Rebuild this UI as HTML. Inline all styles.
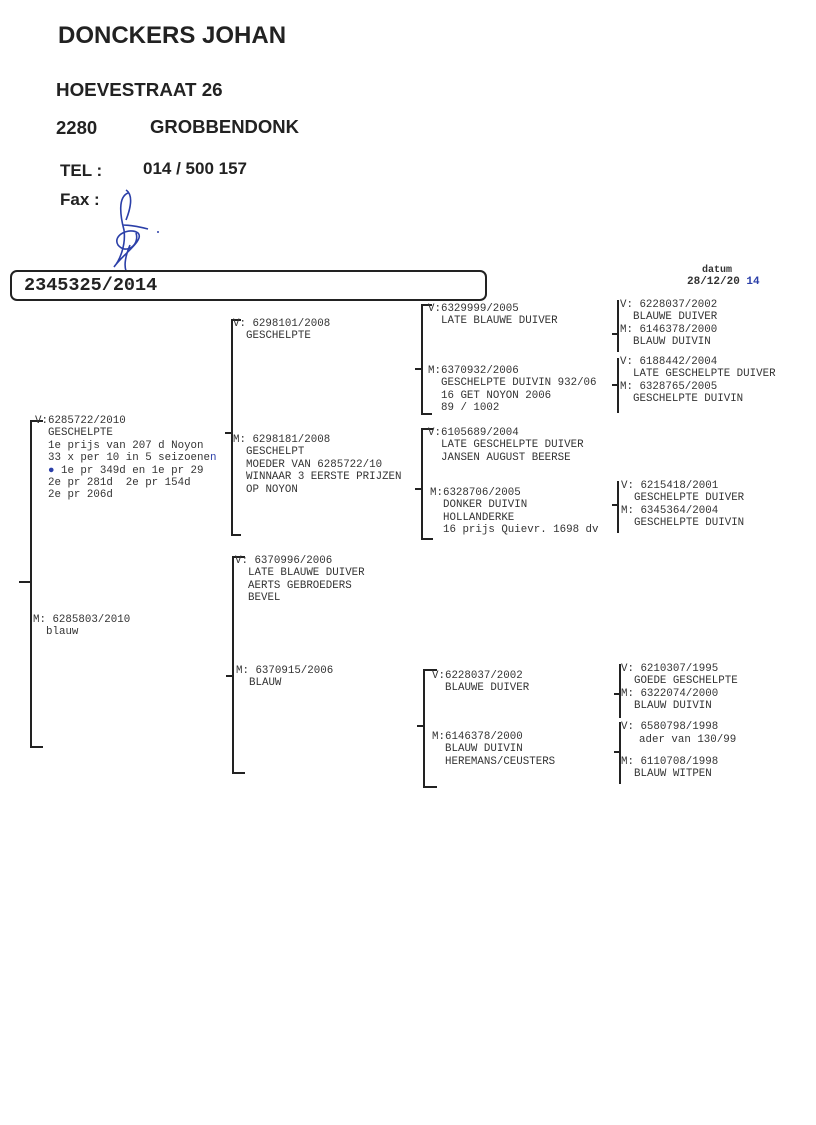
<!DOCTYPE html>
<html><head><meta charset="utf-8">
<style>
body{margin:0;background:#fff;}
#p{position:relative;width:816px;height:1125px;overflow:hidden;background:#fff;}
.h{position:absolute;font-family:"Liberation Sans",sans-serif;font-weight:bold;color:#222;line-height:1;white-space:nowrap;}
.t{position:absolute;font-family:"Liberation Mono",monospace;font-size:10.8px;line-height:12.4px;color:#333;white-space:pre;}
.t div{margin-left:13px;}
.b{position:absolute;border:2px solid #222;border-right:none;}
.v{position:absolute;width:2px;background:#222;}
.k{position:absolute;height:2px;background:#222;}
</style></head><body><div id="p">
<div class="h" style="left:58px;top:24px;font-size:24px;">DONCKERS JOHAN</div>
<div class="h" style="left:56px;top:81px;font-size:18.8px;">HOEVESTRAAT 26</div>
<div class="h" style="left:56px;top:119px;font-size:18.5px;">2280</div>
<div class="h" style="left:150px;top:118px;font-size:18.5px;">GROBBENDONK</div>
<div class="h" style="left:60px;top:162px;font-size:17px;">TEL :</div>
<div class="h" style="left:143px;top:160px;font-size:17px;">014 / 500 157</div>
<div class="h" style="left:60px;top:191px;font-size:17px;">Fax :</div>
<svg style="position:absolute;left:100px;top:185px" width="70" height="90" viewBox="0 0 70 90">
<path d="M28 8 C18 12 20 30 24 45 C26 60 20 75 14 82 C22 70 45 55 38 48 C30 42 12 50 18 60 C26 70 40 60 36 48 M26 5 C34 10 30 25 26 35 M22 40 C30 40 40 42 48 44 M30 60 C25 72 24 80 26 86" fill="none" stroke="#2b3fa8" stroke-width="1.6"/>
<circle cx="58" cy="47" r="1" fill="#2b3fa8"/></svg>
<div style="position:absolute;left:10px;top:270px;width:473px;height:27px;border:2px solid #222;border-radius:7px;"></div>
<div style="position:absolute;left:24px;top:275px;font-family:'Liberation Mono',monospace;font-weight:bold;font-size:18.5px;color:#222;">2345325/2014</div>
<div style="position:absolute;left:702px;top:265px;font-family:'Liberation Mono',monospace;font-weight:bold;font-size:10px;color:#333;">datum</div>
<div style="position:absolute;left:687px;top:276px;font-family:'Liberation Mono',monospace;font-weight:bold;font-size:11px;color:#333;">28/12/20<span style="color:#2b3fa8"> 14</span></div>

<div class="b" style="left:30px;top:420px;width:11px;height:324px;"></div>
<div class="k" style="left:19px;top:581px;width:12px;"></div>
<div class="b" style="left:231px;top:319px;width:8px;height:213px;"></div>
<div class="k" style="left:225px;top:432px;width:7px;"></div>
<div class="b" style="left:232px;top:556px;width:11px;height:214px;"></div>
<div class="k" style="left:226px;top:675px;width:7px;"></div>
<div class="b" style="left:421px;top:304px;width:9px;height:107px;"></div>
<div class="k" style="left:415px;top:368px;width:7px;"></div>
<div class="b" style="left:421px;top:428px;width:10px;height:108px;"></div>
<div class="k" style="left:415px;top:488px;width:7px;"></div>
<div class="b" style="left:423px;top:669px;width:12px;height:115px;"></div>
<div class="k" style="left:417px;top:725px;width:7px;"></div>

<div class="v" style="left:617px;top:300px;height:52px;"></div><div class="k" style="left:612px;top:333px;width:6px;"></div>
<div class="v" style="left:617px;top:358px;height:55px;"></div><div class="k" style="left:612px;top:384px;width:6px;"></div>
<div class="v" style="left:617px;top:481px;height:52px;"></div><div class="k" style="left:612px;top:504px;width:6px;"></div>
<div class="v" style="left:619px;top:664px;height:54px;"></div><div class="k" style="left:614px;top:693px;width:6px;"></div>
<div class="v" style="left:619px;top:722px;height:62px;"></div><div class="k" style="left:614px;top:751px;width:6px;"></div>

<div class="t" style="left:35px;top:415px;">V:6285722/2010<div>GESCHELPTE
1e prijs van 207 d Noyon
33 x per 10 in 5 seizoene<span style="color:#2b3fa8">n</span>
<span style="color:#2b3fa8">●</span> 1e pr 349d en 1e pr 29
2e pr 281d  2e pr 154d
2e pr 206d</div></div>
<div class="t" style="left:33px;top:614px;">M: 6285803/2010<div>blauw</div></div>
<div class="t" style="left:233px;top:318px;">V: 6298101/2008<div>GESCHELPTE</div></div>
<div class="t" style="left:233px;top:434px;">M: 6298181/2008<div>GESCHELPT
MOEDER VAN 6285722/10
WINNAAR 3 EERSTE PRIJZEN
OP NOYON</div></div>
<div class="t" style="left:235px;top:555px;">V: 6370996/2006<div>LATE BLAUWE DUIVER
AERTS GEBROEDERS
BEVEL</div></div>
<div class="t" style="left:236px;top:665px;">M: 6370915/2006<div>BLAUW</div></div>
<div class="t" style="left:428px;top:303px;">V:6329999/2005<div>LATE BLAUWE DUIVER</div></div>
<div class="t" style="left:428px;top:365px;">M:6370932/2006<div>GESCHELPTE DUIVIN 932/06
16 GET NOYON 2006
89 / 1002</div></div>
<div class="t" style="left:428px;top:427px;">V:6105689/2004<div>LATE GESCHELPTE DUIVER
JANSEN AUGUST BEERSE</div></div>
<div class="t" style="left:430px;top:487px;">M:6328706/2005<div>DONKER DUIVIN
HOLLANDERKE
16 prijs Quievr. 1698 dv</div></div>
<div class="t" style="left:432px;top:670px;">V:6228037/2002<div>BLAUWE DUIVER</div></div>
<div class="t" style="left:432px;top:731px;">M:6146378/2000<div>BLAUW DUIVIN
HEREMANS/CEUSTERS</div></div>
<div class="t" style="left:620px;top:299px;">V: 6228037/2002<div>BLAUWE DUIVER</div>M: 6146378/2000<div>BLAUW DUIVIN</div></div>
<div class="t" style="left:620px;top:356px;">V: 6188442/2004<div>LATE GESCHELPTE DUIVER</div>M: 6328765/2005<div>GESCHELPTE DUIVIN</div></div>
<div class="t" style="left:621px;top:480px;">V: 6215418/2001<div>GESCHELPTE DUIVER</div>M: 6345364/2004<div>GESCHELPTE DUIVIN</div></div>
<div class="t" style="left:621px;top:663px;">V: 6210307/1995<div>GOEDE GESCHELPTE</div>M: 6322074/2000<div>BLAUW DUIVIN</div></div>
<div class="t" style="left:621px;top:721px;">V: 6580798/1998</div>
<div class="t" style="left:639px;top:734px;">ader van 130/99</div>
<div class="t" style="left:621px;top:756px;">M: 6110708/1998<div>BLAUW WITPEN</div></div>
</div></body></html>
